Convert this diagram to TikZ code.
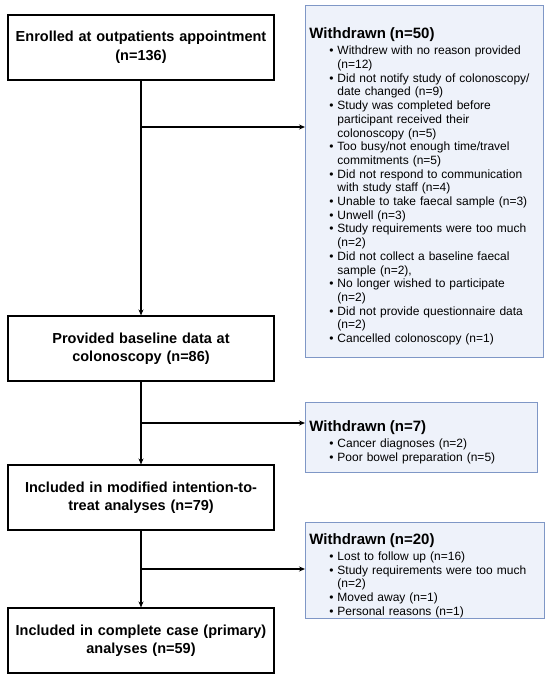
\documentclass[tikz,border=0pt]{standalone}
\usepackage{fontspec}
\setmainfont{Liberation Sans}
\usepackage{enumitem}
\usetikzlibrary{arrows.meta,positioning}
\colorlet{background}{white}
\colorlet{penColor}{black}
\definecolor{wdFill}{HTML}{EEF2FA}
\definecolor{wdLine}{HTML}{7F97C6}
\tikzset{>={Stealth[length=6pt,width=5pt]},
  stagebox/.style={draw=penColor,line width=1.1pt,minimum width=266pt,
    minimum height=65pt,inner sep=0pt,text width=262pt,align=center,
    font=\fontsize{14.5}{18.5}\selectfont\bfseries},
  wdbox/.style={draw=wdLine,fill=wdFill,line width=0.9pt,anchor=north west,
    inner xsep=4pt,inner ysep=0pt,align=left,
    font=\fontsize{12}{13.7}\selectfont},
  flow/.style={->,line width=1.1pt}}
\newcommand{\wdtitle}[1]{{\fontsize{15}{16}\selectfont\bfseries #1}\par\vspace{2.5pt}}
\newenvironment{reasons}{\begin{itemize}[leftmargin=28pt,labelsep=4pt,
  itemsep=0pt,parsep=0pt,topsep=0pt,partopsep=0pt,label=\textbullet]}{\end{itemize}\par\kern-10pt\relax}

\begin{document}
\begin{tikzpicture}[x=1pt,y=-1pt]
    \fill[background] (0,0) rectangle (550,679);
    \useasboundingbox (0,0) rectangle (550,679);

    % main stages
    \node[stagebox] (enrol) at (141,47.5) {Enrolled at outpatients appointment\\(n=136)};
    \node[stagebox] (baseline) at (141,348.5) {Provided baseline data at\\colonoscopy (n=86)};
    \node[stagebox] (mitt) at (141,497.5) {Included in modified intention-to-\\treat analyses (n=79)};
    \node[stagebox] (cca) at (141,640.5) {Included in complete case (primary)\\analyses (n=59)};

    % withdrawals
    \node[wdbox,text width=230pt,minimum height=352pt] (wd50) at (305,5) {%
      \wdtitle{Withdrawn (n=50)}
      \begin{reasons}
        \item Withdrew with no reason provided\newline (n=12)
        \item Did not notify study of colonoscopy/\newline date changed (n=9)
        \item Study was completed before\newline participant received their\newline colonoscopy (n=5)
        \item Too busy/not enough time/travel\newline commitments (n=5)
        \item Did not respond to communication\newline with study staff (n=4)
        \item Unable to take faecal sample (n=3)
        \item Unwell (n=3)
        \item Study requirements were too much\newline (n=2)
        \item Did not collect a baseline faecal\newline sample (n=2),
        \item No longer wished to participate\newline (n=2)
        \item Did not provide questionnaire data\newline (n=2)
        \item Cancelled colonoscopy (n=1)
      \end{reasons}};
    \node[wdbox,text width=224pt,minimum height=70pt] (wd7) at (305,402) {%
      \wdtitle{Withdrawn (n=7)}
      \begin{reasons}
        \item Cancer diagnoses (n=2)
        \item Poor bowel preparation (n=5)
      \end{reasons}};
    \node[wdbox,text width=231pt,minimum height=96pt] (wd20) at (305,522) {%
      \wdtitle{Withdrawn (n=20)}
      \begin{reasons}
        \item Lost to follow up (n=16)
        \item Study requirements were too much\newline (n=2)
        \item Moved away (n=1)
        \item Personal reasons (n=1)
      \end{reasons}};

    % connectors
    \coordinate (split50) at (141,127);
    \coordinate (split7) at (141,423);
    \coordinate (split20) at (141,569);
    \draw[flow] (enrol) -- (baseline);
    \draw[flow] (baseline) -- (mitt);
    \draw[flow] (mitt) -- (cca);
    \draw[flow] (split50) -- (split50 -| wd50.west);
    \draw[flow] (split7) -- (split7 -| wd7.west);
    \draw[flow] (split20) -- (split20 -| wd20.west);
  \end{tikzpicture}
\end{document}
